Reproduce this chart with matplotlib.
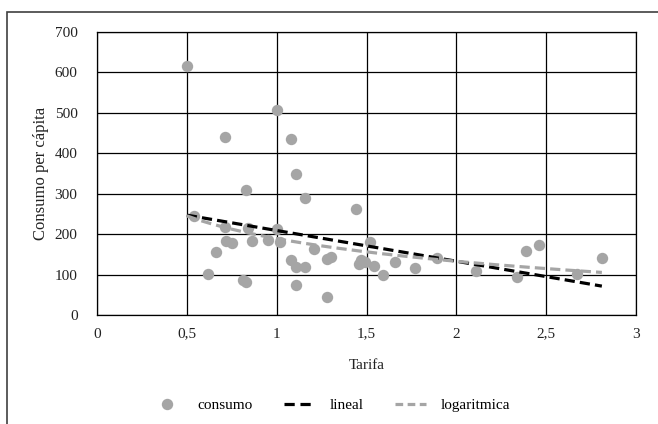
import numpy as np
import matplotlib
matplotlib.use("Agg")
import matplotlib.pyplot as plt
from matplotlib.patches import Rectangle
from matplotlib.lines import Line2D

# Data
tarifa = [0.50, 1.00, 0.71, 1.08, 1.11, 0.83, 1.16, 1.44, 0.54, 0.71, 0.84, 1.00,
          0.72, 0.75, 0.86, 0.95, 1.02, 1.21, 0.66, 0.62, 0.81, 0.83, 1.08, 1.11,
          1.16, 1.11, 1.28, 1.28, 1.30, 1.47, 1.49, 1.46, 1.52, 1.54, 1.59, 1.66,
          1.77, 1.89, 2.11, 2.34, 2.39, 2.46, 2.67, 2.81]
consumo = [616, 507, 440, 436, 350, 308, 290, 263, 245, 218, 216, 212,
           183, 177, 182, 186, 180, 164, 156, 101, 86, 82, 137, 119,
           119, 75, 45, 138, 144, 137, 131, 126, 180, 121, 99, 131,
           116, 141, 109, 94, 158, 173, 101, 141]

# Trendline coefficients
lineal_coef = [-76.0, 285.0]        # y = m*x + b
log_coef = [-81.0, 189.0]           # y = a*ln(x) + b

xticks = [0, 0.5, 1, 1.5, 2, 2.5, 3]
xticklabels = ["0", "0,5", "1", "1,5", "2", "2,5", "3"]
yticks = [0, 100, 200, 300, 400, 500, 600, 700]

plt.rcParams['font.family'] = ['Liberation Serif', 'DejaVu Serif']

W, H = 658, 424
fig = plt.figure(figsize=(W / 100, H / 100), dpi=100)
ax = fig.add_axes([97 / W, 1 - 315 / H, (636 - 97) / W, (315 - 32) / H])

# outer chart border (cropped at right/bottom)
fig.patches.append(Rectangle((6.5 / W, -0.1), 1.2, 1 - 11.5 / H + 0.1,
                             transform=fig.transFigure, fill=False,
                             edgecolor='#404040', linewidth=1.2, zorder=0))

gray = '#a5a5a5'
ax.plot(tarifa, consumo, 'o', color=gray, markersize=8.2, markeredgewidth=0,
        zorder=3, label='consumo')

xs = np.linspace(min(tarifa), max(tarifa), 200)
ax.plot(xs, np.polyval(lineal_coef, xs), color='black', linewidth=2.3,
        dashes=(3.2, 1.6), zorder=4, label='lineal')
ax.plot(xs, log_coef[0] * np.log(xs) + log_coef[1], color=gray, linewidth=2.3,
        dashes=(3.2, 1.6), zorder=4, label='logaritmica')

ax.set_xlim(0, 3)
ax.set_ylim(0, 700)
ax.set_xticks(xticks)
ax.set_xticklabels(xticklabels)
ax.set_yticks(yticks)
ax.grid(True, color='black', linewidth=0.9)
ax.set_axisbelow(True)
for s in ax.spines.values():
    s.set_color('black')
    s.set_linewidth(0.9)
ax.tick_params(length=0, labelsize=11, pad=9, colors='#222222')
ax.tick_params(axis='y', pad=14)

ax.set_xlabel('Tarifa', fontsize=11, labelpad=13, color='#222222')
ax.set_ylabel('Consumo per cápita', fontsize=12, labelpad=4, color='#222222')

handles = [
    Line2D([], [], marker='o', linestyle='none', color=gray, markersize=8.2, markeredgewidth=0),
    Line2D([], [], color='black', linewidth=2.3, dashes=(3.2, 1.8)),
    Line2D([], [], color=gray, linewidth=2.3, dashes=(2.4, 1.4)),
]
fig.legend(handles, ['consumo', 'lineal', 'logaritmica'], loc='center',
           bbox_to_anchor=(331 / W, 1 - 405 / H), ncol=3, frameon=False,
           fontsize=11, handlelength=2.0, columnspacing=2.1, handletextpad=0.95)

fig.savefig('out.png', dpi=100)
